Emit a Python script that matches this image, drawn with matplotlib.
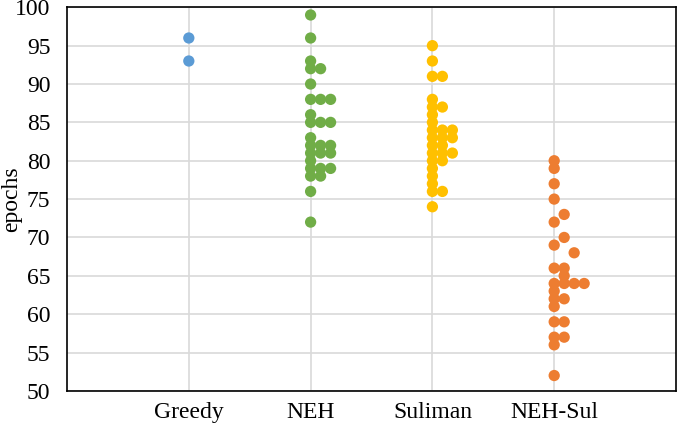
import matplotlib.pyplot as plt

plt.rcParams['font.family'] = ['Liberation Serif', 'DejaVu Serif']

# categories and colours
categories = ['Greedy', 'NEH', 'Suliman', 'NEH-Sul']
colors = ['#5B9BD5', '#70AD47', '#FFC000', '#ED7D31']

# epochs per run, and the side-by-side column each dot sits in
greedy = [96, 93]
greedy_col = [0, 0]

neh = [99, 96, 93, 92, 92, 90, 88, 88, 88, 86, 85, 85, 85, 83,
       82, 82, 82, 81, 81, 81, 80, 79, 79, 79, 78, 78, 76, 72]
neh_col = [0, 0, 0, 0, 1, 0, 0, 1, 2, 0, 0, 1, 2, 0,
           0, 1, 2, 0, 1, 2, 0, 0, 1, 2, 0, 1, 0, 0]

suliman = [95, 93, 91, 91, 88, 87, 87, 86, 85, 84, 84, 84, 83, 83,
           83, 82, 82, 81, 81, 81, 80, 80, 79, 78, 77, 76, 76, 74]
suliman_col = [0, 0, 0, 1, 0, 0, 1, 0, 0, 0, 1, 2, 0, 1,
               2, 0, 1, 0, 1, 2, 0, 1, 0, 0, 0, 0, 1, 0]

neh_sul = [80, 79, 77, 75, 73, 72, 70, 69, 68, 66, 66, 65, 64,
           64, 64, 64, 63, 62, 62, 61, 59, 59, 57, 57, 56, 52]
neh_sul_col = [0, 0, 0, 0, 1, 0, 1, 0, 2, 0, 1, 1, 0,
               1, 2, 3, 0, 0, 1, 0, 0, 1, 0, 1, 0, 0]

series = [(greedy, greedy_col), (neh, neh_col),
          (suliman, suliman_col), (neh_sul, neh_sul_col)]

step = 0.082  # horizontal spacing between dot columns

fig = plt.figure(figsize=(6.77, 4.30), dpi=100)
ax = fig.add_axes([0.099, 0.091, 0.8995, 0.892])

for i, (vals, cols) in enumerate(series):
    xs = [i + 1 + c * step for c in cols]
    ax.scatter(xs, vals, s=66, color=colors[i], edgecolors='none', zorder=3)

ax.set_xlim(0, 5)
ax.set_ylim(50, 100)
ax.set_yticks(range(50, 101, 5))
ax.set_xticks(range(1, 5))
ax.set_xticklabels(categories)
ax.tick_params(length=0, labelsize=17)
ax.tick_params(axis='y', pad=12)
ax.tick_params(axis='x', pad=8)
ax.grid(True, color='#D9D9D9', linewidth=1.2, zorder=0)
ax.set_axisbelow(True)
for sp in ax.spines.values():
    sp.set_linewidth(1.2)
    sp.set_color('black')
ax.set_ylabel('epochs', fontsize=17)
ax.yaxis.set_label_coords(-0.073, 0.5)

fig.savefig('out.png', dpi=100)
